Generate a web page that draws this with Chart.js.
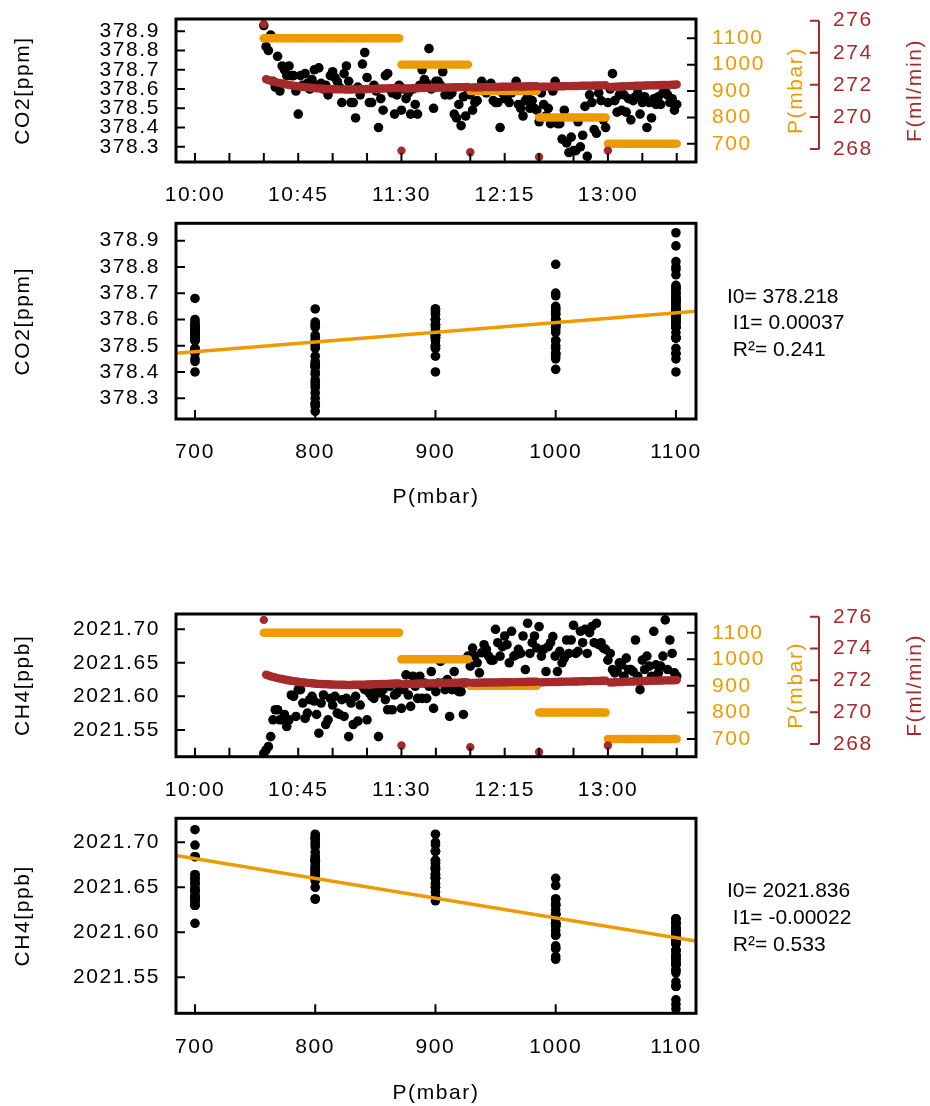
<!DOCTYPE html>
<html>
<head>
<meta charset="utf-8">
<script src="https://cdn.jsdelivr.net/npm/chart.js@4.4.0/dist/chart.umd.min.js"></script>
<style>
  body { margin: 0; background: #fff; width: 930px; height: 1106px; position: relative; overflow: hidden; }
  canvas { position: absolute; left: 0; }
</style>
</head>
<body>
<canvas id="co2Time" width="930" height="210" style="top:0px"></canvas>
<canvas id="co2Fit" width="930" height="300" style="top:210px"></canvas>
<canvas id="ch4Time" width="930" height="220" style="top:590px"></canvas>
<canvas id="ch4Fit" width="930" height="296" style="top:810px"></canvas>
<script>
// one reading per minute, first one at 10:30 (minutes counted from 10:00)
const startMinute = 30;

const co2 = [
  378.93, 378.82, 378.80, 378.88, 378.64, 378.61, 378.77, 378.59, 378.72, 378.70,
  378.67, 378.72, 378.67, 378.67, 378.59, 378.47, 378.67, 378.62, 378.68, 378.63,
  378.60, 378.65, 378.70, 378.62, 378.71, 378.63, 378.60, 378.62, 378.57, 378.67,
  378.69, 378.66, 378.64, 378.61, 378.53, 378.68, 378.72, 378.64, 378.53, 378.53,
  378.45, 378.61, 378.57, 378.73, 378.79, 378.66, 378.53, 378.53, 378.62, 378.59,
  378.40, 378.55, 378.49, 378.67, 378.68, 378.60, 378.58, 378.47, 378.57, 378.62,
  378.49, 378.60, 378.55, 378.58, 378.47, 378.60, 378.52, 378.47, 378.62, 378.70,
  378.65, 378.63, 378.81, 378.60, 378.50, 378.64, 378.64, 378.62, 378.69, 378.57,
  378.60, 378.57, 378.58, 378.47, 378.45, 378.52, 378.41, 378.56, 378.46, 378.58,
  378.57, 378.49, 378.53, 378.54, 378.60, 378.64, 378.62, 378.58, 378.60, 378.63,
  378.54, 378.53, 378.53, 378.40, 378.58, 378.55, 378.55, 378.53, 378.58, 378.60,
  378.64, 378.52, 378.50, 378.46, 378.54, 378.56, 378.50, 378.54, 378.50, 378.49,
  378.43, 378.58, 378.52, 378.46, 378.50, 378.42, 378.59, 378.64, 378.42, 378.42,
  378.34, 378.49, 378.32, 378.27, 378.35, 378.28, 378.28, 378.43, 378.30, 378.36,
  378.51, 378.25, 378.57, 378.53, 378.39, 378.37, 378.58, 378.54, 378.44, 378.40,
  378.53, 378.60, 378.68, 378.54, 378.48, 378.57, 378.49, 378.57, 378.48, 378.55,
  378.44, 378.54, 378.56, 378.58, 378.47, 378.53, 378.56, 378.40, 378.53, 378.45,
  378.55, 378.52, 378.56, 378.52, 378.58, 378.59, 378.57, 378.53, 378.55, 378.49,
  378.52
];

const ch4 = [
  2021.515, 2021.520, 2021.525, 2021.540, 2021.565, 2021.580, 2021.580, 2021.565, 2021.565, 2021.573,
  2021.555, 2021.565, 2021.602, 2021.600, 2021.570, 2021.610, 2021.610, 2021.590, 2021.567, 2021.575,
  2021.595, 2021.600, 2021.593, 2021.573, 2021.545, 2021.590, 2021.602, 2021.558, 2021.565, 2021.597,
  2021.587, 2021.600, 2021.575, 2021.573, 2021.595, 2021.570, 2021.597, 2021.540, 2021.590, 2021.558,
  2021.600, 2021.563, 2021.587, 2021.615, 2021.610, 2021.565, 2021.605, 2021.600, 2021.597, 2021.610,
  2021.540, 2021.605, 2021.610, 2021.595, 2021.580, 2021.615, 2021.580, 2021.602, 2021.605, 2021.615,
  2021.582, 2021.610, 2021.632, 2021.602, 2021.585, 2021.630, 2021.615, 2021.597, 2021.630, 2021.597,
  2021.620, 2021.597, 2021.615, 2021.637, 2021.582, 2021.607, 2021.620, 2021.652, 2021.620, 2021.610,
  2021.625, 2021.570, 2021.610, 2021.637, 2021.610, 2021.607, 2021.607, 2021.573, 2021.620, 2021.660,
  2021.645, 2021.672, 2021.660, 2021.650, 2021.635, 2021.665, 2021.677, 2021.670, 2021.660, 2021.654,
  2021.654, 2021.700, 2021.680, 2021.660, 2021.674, 2021.690, 2021.677, 2021.650, 2021.697, 2021.660,
  2021.662, 2021.670, 2021.664, 2021.690, 2021.640, 2021.709, 2021.664, 2021.680, 2021.690, 2021.672,
  2021.704, 2021.660, 2021.670, 2021.637, 2021.674, 2021.680, 2021.689, 2021.660, 2021.637, 2021.667,
  2021.650, 2021.657, 2021.684, 2021.664, 2021.684, 2021.706, 2021.664, 2021.667, 2021.697, 2021.680,
  2021.700, 2021.664, 2021.695, 2021.704, 2021.680, 2021.709, 2021.677, 2021.680, 2021.672, 2021.670,
  2021.654, 2021.664, 2021.640, 2021.635, 2021.637, 2021.650, 2021.647, 2021.630, 2021.657, 2021.640,
  2021.640, 2021.637, 2021.684, 2021.630, 2021.610, 2021.654, 2021.640, 2021.660, 2021.645, 2021.630,
  2021.697, 2021.647, 2021.635, 2021.645, 2021.660, 2021.714, 2021.640, 2021.684, 2021.664, 2021.635,
  2021.630
];

// flow through the analyser, ml/min
const flow = [
  275.80, 272.35, 272.30, 272.26, 272.22, 272.18, 272.14, 272.11, 272.08, 272.05,
  272.02, 271.99, 271.97, 271.95, 271.93, 271.91, 271.89, 271.87, 271.86, 271.84,
  271.83, 271.82, 271.80, 271.79, 271.78, 271.77, 271.76, 271.76, 271.75, 271.74,
  271.74, 271.73, 271.73, 271.72, 271.72, 271.72, 271.71, 271.71, 271.71, 271.72,
  271.72, 271.72, 271.73, 271.73, 271.73, 271.74, 271.74, 271.75, 271.75, 271.76,
  271.76, 271.77, 271.77, 271.78, 271.78, 271.79, 271.79, 271.80, 271.80, 271.81,
  267.90, 271.76, 271.77, 271.77, 271.78, 271.78, 271.79, 271.79, 271.80, 271.80,
  271.80, 271.81, 271.81, 271.81, 271.82, 271.82, 271.82, 271.83, 271.83, 271.83,
  271.84, 271.84, 271.84, 271.85, 271.85, 271.85, 271.86, 271.86, 271.86, 271.87,
  267.80, 271.84, 271.84, 271.85, 271.85, 271.85, 271.86, 271.86, 271.86, 271.87,
  271.87, 271.87, 271.87, 271.88, 271.88, 271.88, 271.88, 271.89, 271.89, 271.89,
  271.89, 271.90, 271.90, 271.90, 271.90, 271.91, 271.91, 271.91, 271.91, 271.92,
  267.50, 271.88, 271.88, 271.89, 271.89, 271.89, 271.90, 271.90, 271.90, 271.91,
  271.91, 271.91, 271.92, 271.92, 271.92, 271.93, 271.93, 271.93, 271.94, 271.94,
  271.94, 271.95, 271.95, 271.95, 271.96, 271.96, 271.96, 271.97, 271.97, 271.98,
  267.90, 271.86, 271.87, 271.88, 271.89, 271.90, 271.90, 271.91, 271.92, 271.92,
  271.93, 271.93, 271.94, 271.94, 271.95, 271.95, 271.96, 271.96, 271.97, 271.97,
  271.98, 271.98, 271.98, 271.99, 271.99, 272.00, 272.00, 272.00, 272.01, 272.01,
  272.02
];

// pressure steps: level and the minute it was switched on
const pressureLevels = [1100, 1000, 900, 800, 700];
const levelStarts = [30, 90, 120, 150, 180];

const flowTicks = [268, 270, 272, 274, 276];

const co2Intercept = 378.218, co2Slope = 0.00037, co2R2 = 0.241;
const ch4Intercept = 2021.836, ch4Slope = -0.00022, ch4R2 = 0.533;

const ORANGE = '#EE9A00';
const BROWN = '#A52A2A';
const FONT = '"Liberation Sans", Arial, sans-serif';

Chart.defaults.font.family = FONT;
Chart.defaults.font.size = 21;
Chart.defaults.color = '#000';

const minutes = co2.map((v, i) => startMinute + i);

function pressureAt(t) {
    let p = pressureLevels[0];
    levelStarts.forEach((s, k) => { if (t >= s) p = pressureLevels[k]; });
    return p;
}

function clock(m) {
    const h = 10 + Math.floor(m / 60);
    return h + ':' + String(m % 60).padStart(2, '0');
}

const pressure = minutes.map(pressureAt);
const timeSeries = (vals) => vals.map((v, i) => ({x: minutes[i], y: v}));
const vsPressure = (vals) => vals.map((v, i) => ({x: pressure[i], y: v}));

function dots(data, color, r, axis, order) {
    return {
        data: data, yAxisID: axis, order: order,
        backgroundColor: color, borderWidth: 0,
        pointRadius: r, pointHoverRadius: r, clip: false,
    };
}

// R-like frame: box, inward ticks, extra flow axis, right titles, fit text
const framePlugin = {
    id: 'frame',
    beforeDraw(chart) {
        chart.ctx.letterSpacing = '1.6px';
    },
    afterDraw(chart, args, opts) {
        const {ctx, chartArea: a, scales} = chart;
        ctx.save();
        ctx.strokeStyle = '#000';
        ctx.lineWidth = 2;
        ctx.beginPath();
        scales.x.ticks.forEach((t) => {
            const px = scales.x.getPixelForValue(t.value);
            ctx.moveTo(px, a.bottom); ctx.lineTo(px, a.bottom - 9);
        });
        scales.y.ticks.forEach((t) => {
            const py = scales.y.getPixelForValue(t.value);
            ctx.moveTo(a.left, py); ctx.lineTo(a.left + 9, py);
        });
        if (scales.yP) {
            scales.yP.ticks.forEach((t) => {
                const py = scales.yP.getPixelForValue(t.value);
                ctx.moveTo(a.right, py); ctx.lineTo(a.right - 9, py);
            });
        }
        ctx.stroke();
        ctx.lineWidth = 3;
        ctx.strokeRect(a.left, a.top, a.right - a.left, a.bottom - a.top);

        if (scales.yF) {
            const fx = 819;
            const f = scales.yF;
            ctx.strokeStyle = BROWN;
            ctx.lineWidth = 2;
            ctx.beginPath();
            ctx.moveTo(fx, f.getPixelForValue(flowTicks[0]));
            ctx.lineTo(fx, f.getPixelForValue(flowTicks[flowTicks.length - 1]));
            flowTicks.forEach((v) => {
                ctx.moveTo(fx, f.getPixelForValue(v));
                ctx.lineTo(fx - 9, f.getPixelForValue(v));
            });
            ctx.stroke();
            ctx.fillStyle = BROWN;
            ctx.font = '21px ' + FONT;
            ctx.textAlign = 'left';
            ctx.textBaseline = 'middle';
            flowTicks.forEach((v) => ctx.fillText(String(v), 833, f.getPixelForValue(v)));

            const cy = (a.top + a.bottom) / 2;
            ctx.textAlign = 'center';
            [['P(mbar)', 796, ORANGE], ['F(ml/min)', 915, BROWN]].forEach(([txt, x, col]) => {
                ctx.save();
                ctx.translate(x, cy);
                ctx.rotate(-Math.PI / 2);
                ctx.fillStyle = col;
                ctx.fillText(txt, 0, 0);
                ctx.restore();
            });
        }

        if (opts.stats) {
            ctx.letterSpacing = '0px';
            ctx.fillStyle = '#000';
            ctx.font = '21px ' + FONT;
            ctx.textAlign = 'left';
            ctx.textBaseline = 'alphabetic';
            opts.stats.forEach((line, i) => ctx.fillText(line, 727, opts.statsBaseline + i * 26.7));
        }
        ctx.restore();
    }
};

function fixedAxis(size, horizontal) {
    return (s) => {
        if (horizontal) { s.height = size; s.paddingLeft = 0; s.paddingRight = 0; }
        else { s.width = size; s.paddingTop = 0; s.paddingBottom = 0; }
    };
}

const plainGrid = {display: false, drawTicks: false};
const noBorder = {display: false};

function timeChart(id, gas, gasLabel, yRange, yStep, yDigits, layout) {
    return new Chart(document.getElementById(id), {
        type: 'scatter',
        data: {
            datasets: [
                dots(timeSeries(flow), BROWN, 4.2, 'yF', 0),
                dots(minutes.map((t, i) => ({x: t, y: pressure[i]})), ORANGE, 4.2, 'yP', 1),
                dots(timeSeries(gas), '#000', 4.8, 'y', 2),
            ],
        },
        options: {
            responsive: false,
            animation: false,
            events: [],
            layout: {padding: {top: layout.top, left: 0, right: 0, bottom: 0}},
            plugins: {legend: {display: false}, tooltip: {enabled: false},
                frame: {}},
            scales: {
                x: {
                    type: 'linear', position: 'bottom', min: -8.28, max: 218.4,
                    grid: plainGrid, border: noBorder,
                    ticks: {stepSize: 15, includeBounds: false, autoSkip: false, maxRotation: 0,
                        padding: 21, color: '#000',
                        callback: (v) => (v % 45 === 0 ? clock(v) : '')},
                    afterFit: fixedAxis(layout.xHeight, true),
                },
                y: {
                    position: 'left', min: yRange[0], max: yRange[1],
                    grid: plainGrid, border: noBorder,
                    ticks: {stepSize: yStep, includeBounds: false, autoSkip: false, padding: 16, color: '#000',
                        callback: (v) => v.toFixed(yDigits)},
                    title: {display: true, text: gasLabel, color: '#000', padding: {top: 11, bottom: 0}},
                    afterFit: fixedAxis(176, false),
                },
                yP: {
                    position: 'right', min: layout.pRange[0], max: layout.pRange[1],
                    grid: plainGrid, border: noBorder,
                    ticks: {stepSize: 100, includeBounds: false, autoSkip: false, padding: 16, color: ORANGE,
                        callback: (v) => String(v)},
                    afterFit: fixedAxis(234, false),
                },
                yF: {display: false, min: layout.fRange[0], max: layout.fRange[1]},
            },
        },
        plugins: [framePlugin],
    });
}

const pMin = 684.2, pMax = 1116.7;

function fitChart(id, gas, gasLabel, yRange, yStep, yDigits, i0, i1, r2, layout) {
    return new Chart(document.getElementById(id), {
        type: 'scatter',
        data: {
            datasets: [
                {
                    type: 'line', order: 0,
                    data: [{x: pMin, y: i0 + i1 * pMin}, {x: pMax, y: i0 + i1 * pMax}],
                    borderColor: ORANGE, borderWidth: 3.5, pointRadius: 0, fill: false,
                },
                dots(vsPressure(gas), '#000', 4.8, 'y', 1),
            ],
        },
        options: {
            responsive: false,
            animation: false,
            events: [],
            layout: {padding: {top: layout.top, left: 0, right: 234, bottom: 0}},
            plugins: {
                legend: {display: false}, tooltip: {enabled: false},
                frame: {
                    stats: ['I0= ' + i0.toFixed(3), ' I1= ' + i1.toFixed(5), ' R\u00b2= ' + r2.toFixed(3)],
                    statsBaseline: layout.statsBaseline,
                },
            },
            scales: {
                x: {
                    type: 'linear', position: 'bottom', min: pMin, max: pMax,
                    grid: plainGrid, border: noBorder,
                    ticks: {stepSize: 100, includeBounds: false, autoSkip: false, maxRotation: 0,
                        padding: 21, color: '#000', callback: (v) => String(v)},
                    title: {display: true, text: 'P(mbar)', color: '#000', padding: {top: 0, bottom: 0}},
                    afterFit: fixedAxis(layout.xHeight, true),
                },
                y: {
                    position: 'left', min: yRange[0], max: yRange[1],
                    grid: plainGrid, border: noBorder,
                    ticks: {stepSize: yStep, includeBounds: false, autoSkip: false, padding: 16, color: '#000',
                        callback: (v) => v.toFixed(yDigits)},
                    title: {display: true, text: gasLabel, color: '#000', padding: {top: 11, bottom: 0}},
                    afterFit: fixedAxis(176, false),
                },
            },
        },
        plugins: [framePlugin],
    });
}

const co2Range = [378.221, 378.964];
const ch4Range = [2021.510, 2021.7228];

timeChart('co2Time', co2, 'CO2[ppm]', co2Range, 0.1, 1,
    {top: 19, xHeight: 48, pRange: [631, 1173], fRange: [267.19, 276.106]});
fitChart('co2Fit', co2, 'CO2[ppm]', [378.221, 378.966], 0.1, 1, co2Intercept, co2Slope, co2R2,
    {top: 13.3, xHeight: 91, statsBaseline: 92.7});
timeChart('ch4Time', ch4, 'CH4[ppb]', ch4Range, 0.05, 2,
    {top: 24, xHeight: 53.3, pRange: [633.4, 1170.4], fRange: [267.2, 276.17]});
fitChart('ch4Fit', ch4, 'CH4[ppb]', [2021.510, 2021.7267], 0.05, 2, ch4Intercept, ch4Slope, ch4R2,
    {top: 8.3, xHeight: 92.7, statsBaseline: 87.3});
</script>
</body>
</html>
